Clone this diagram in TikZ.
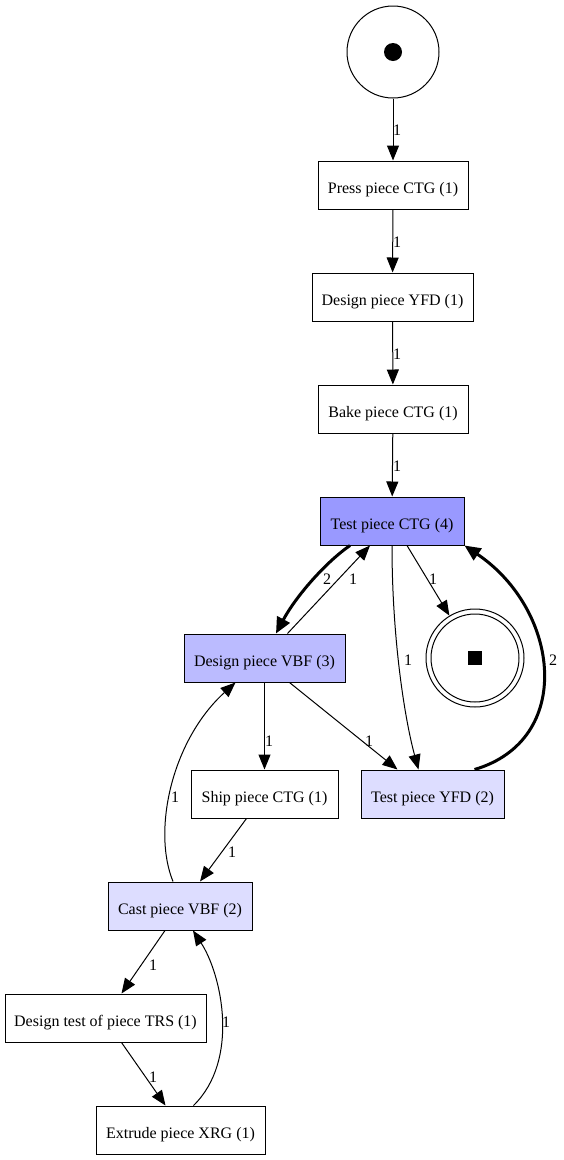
\documentclass[tikz,border=0pt]{standalone}
\usepackage{fontspec}
\setmainfont{Liberation Serif}
\usetikzlibrary{arrows.meta}
\definecolor{fillA}{HTML}{9999FF}
\definecolor{fillB}{HTML}{BBBBFF}
\definecolor{fillC}{HTML}{DDDDFF}
\begin{document}
\begin{tikzpicture}[x=1pt,y=-1pt,
  tr/.style={draw, line width=1pt, rectangle, minimum height=48pt, inner xsep=0pt, text height=16pt, text depth=0pt, font=\fontsize{16}{19}\selectfont},
  lbl/.style={inner sep=0pt, font=\fontsize{16}{19}\selectfont},
  arc/.style={draw, line width=1pt, -{Triangle[length=15pt,width=12pt]}},
  thickarc/.style={draw, line width=3pt, -{Triangle[length=16pt,width=14pt]}}]
\useasboundingbox (0,0) rectangle (563,1160);
% places
\node[circle, draw, line width=1pt, minimum size=92pt, inner sep=0pt] (start) at (393,52) {};
\node[circle, fill=black, minimum size=18pt, inner sep=0pt] (tok) at (start) {};
\node[circle, draw, line width=1pt, minimum size=98pt, inner sep=0pt] (endp) at (475,658) {};
\node[circle, draw, line width=1pt, minimum size=88pt, inner sep=0pt] (endin) at (endp) {};
\node[rectangle, fill=black, minimum size=14pt, inner sep=0pt] (sq) at (endp) {};
% transitions
\node[tr, minimum width=150pt] (press) at (393,185) {Press piece CTG (1)};
\node[tr, minimum width=161pt] (yfd) at (392.5,297) {Design piece YFD (1)};
\node[tr, minimum width=150pt] (bake) at (393,409) {Bake piece CTG (1)};
\node[tr, minimum width=144pt, fill=fillA] (tctg) at (392,521) {Test piece CTG (4)};
\node[tr, minimum width=161pt, fill=fillB] (dvbf) at (264.5,658) {Design piece VBF (3)};
\node[tr, minimum width=147pt] (ship) at (264.5,794) {Ship piece CTG (1)};
\node[tr, minimum width=143pt, fill=fillC] (tyfd) at (432.5,794) {Test piece YFD (2)};
\node[tr, minimum width=144pt, fill=fillC] (cast) at (180,906) {Cast piece VBF (2)};
\node[tr, minimum width=201pt] (dtest) at (105.5,1018) {Design test of piece TRS (1)};
\node[tr, minimum width=169pt] (extr) at (180.5,1130) {Extrude piece XRG (1)};
% arcs
\draw[arc] (start) -- (press);
\draw[arc] (press) -- (yfd);
\draw[arc] (yfd) -- (bake);
\draw[arc] (bake) -- (tctg);
\draw[thickarc] ([xshift=-42pt]tctg.south) .. controls (326,562) and (296,596) .. ([xshift=11.5pt]dvbf.north);
\draw[arc] ([xshift=23pt]dvbf.north) -- ([xshift=-22pt]tctg.south);
\draw[arc] ([xshift=15pt]tctg.south) -- (endp);
\draw[arc] (tctg.south) .. controls (392,640) and (405,720) .. ([xshift=-14pt]tyfd.north);
\draw[thickarc] ([xshift=42pt]tyfd.north) .. controls (575,740) and (560,610) .. (tctg.south east);
\draw[arc] (dvbf) -- (ship);
\draw[arc] ([xshift=25pt]dvbf.south) -- ([xshift=-35pt]tyfd.north);
\draw[arc] ([xshift=-18pt]ship.south) -- ([xshift=20pt]cast.north);
\draw[arc] ([xshift=-7pt]cast.north) .. controls (152,830) and (172,740) .. ([xshift=-29pt]dvbf.south);
\draw[arc] ([xshift=-15pt]cast.south) -- ([xshift=16pt]dtest.north);
\draw[arc] ([xshift=16pt]dtest.south) -- ([xshift=-15pt]extr.north);
\draw[arc] ([xshift=13pt]extr.north) .. controls (240,1060) and (222,975) .. ([xshift=13pt]cast.south);
% labels
\node[lbl] (l1) at (397,130) {1};
\node[lbl] (l2) at (397,242) {1};
\node[lbl] (l3) at (397,354) {1};
\node[lbl] (l4) at (397,466) {1};
\node[lbl] (l5) at (327,579) {2};
\node[lbl] (l6) at (353,579) {1};
\node[lbl] (l7) at (433,579) {1};
\node[lbl] (l8) at (408,660) {1};
\node[lbl] (l9) at (553,660) {2};
\node[lbl] (l10) at (269,741) {1};
\node[lbl] (l11) at (369,741) {1};
\node[lbl] (l12) at (232,852) {1};
\node[lbl] (l13) at (175,797) {1};
\node[lbl] (l14) at (153,965) {1};
\node[lbl] (l15) at (153,1077) {1};
\node[lbl] (l16) at (226,1022) {1};
\end{tikzpicture}
\end{document}
